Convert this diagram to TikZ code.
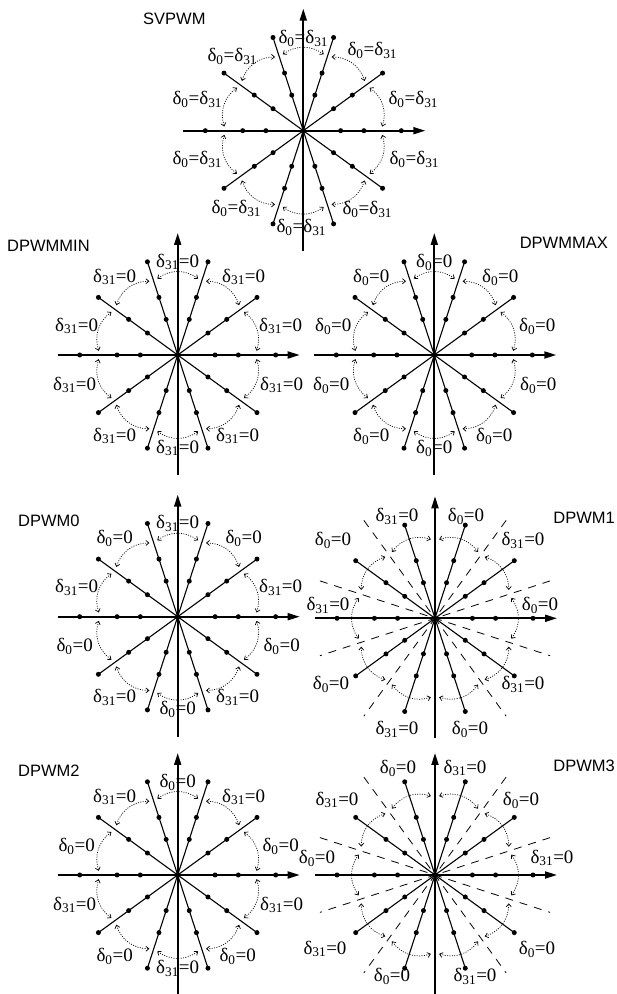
\documentclass[tikz,border=0pt]{standalone}
\usepackage{fontspec}
\setmainfont{Liberation Serif}
\newfontfamily\titlefont{Liberation Sans}
\usetikzlibrary{arrows.meta}

\newcommand{\dsub}[1]{δ\textsubscript{#1}}
\newcommand{\dboth}{\dsub{0}=\dsub{31}}
\newcommand{\dzero}{\dsub{0}=0}
\newcommand{\dfull}{\dsub{31}=0}

% label spots, first one on top, then clockwise
\newcommand{\posSV}{0/92,69/80,110/31,111/-29,64/-79,-2/-97,-67/-78,-106/-29,-106/31,-71/74}
\newcommand{\posA}{0/93,66/78,103/29,104/-30,60/-81,0/-93,-63/-81,-103/-30,-101/29,-63/78}
\newcommand{\posB}{31/102,88/78,105/13,88/-66,35/-111,-38/-111,-104/-66,-107/13,-102/78,-38/102}
\newcommand{\posC}{30/107,86/75,117/17,102/-74,40/-101,-43/-101,-110/-74,-118/17,-98/75,-37/107}

% axes, the five lines and their vectors
\newcommand{\vplane}{%
  \draw[axis] (-120,0) -- (122,0);
  \draw[axis] (0,-120) -- (0,122);
  \foreach \a in {36,72,108,144}
    \draw[ray] (\a:98) -- (\a+180:98);
  \foreach \a in {0,36,...,324}
    \foreach \r in {37.4,60.6,98}
      \fill (\a:\r) circle (2.5);
  \fill (0,0) circle (2.5);
}

% swings round the middle angles #1
\newcommand{\swings}[1]{%
  \foreach \a in {#1}
    \draw[swing] (\a-15:79) to[bend right=36] (\a+15:79);
}

% sector texts, #2 and #3 take turns
\newcommand{\planelabels}[4]{%
  \foreach \x/\y [count=\k] in #1 {
    \ifodd\k\relax \node[lbl] (#4\k) at (\x,\y) {#2};
    \else \node[lbl] (#4\k) at (\x,\y) {#3};\fi
  }
}

\begin{document}
\begin{tikzpicture}[
  x=1pt, y=1pt,
  axis/.style={line width=1.8, -{Triangle[length=12pt,width=7pt]}},
  ray/.style={line width=1.1},
  swing/.style={line width=0.7, dash pattern=on 1pt off 1.4pt,
                {Straight Barb[length=3pt,width=5pt]}-{Straight Barb[length=3pt,width=5pt]}},
  split/.style={line width=0.8, dash pattern=on 8pt off 7pt},
  lbl/.style={inner sep=0pt, font=\fontsize{19}{22}\selectfont},
  title/.style={inner sep=0pt, font=\titlefont\fontsize{16.5}{19}\selectfont},
]
\path[fill=white] (0,0) rectangle (617,994);
\useasboundingbox (0,0) rectangle (617,994);

% SVPWM
\begin{scope}[shift={(303.3,863.3)}]
  \vplane
  \swings{18,54,...,342}
  \planelabels{\posSV}{\dboth}{\dboth}{sv}
\end{scope}
\node[title, anchor=west] (svpwm) at (143,975) {SVPWM};

% DPWMMIN
\begin{scope}[shift={(177.7,639)}]
  \vplane
  \swings{18,54,...,342}
  \planelabels{\posA}{\dfull}{\dfull}{mn}
\end{scope}
\node[title, anchor=west] (dpwmmin) at (7,748.5) {DPWMMIN};

% DPWMMAX
\begin{scope}[shift={(434.3,639)}]
  \vplane
  \swings{18,54,...,342}
  \planelabels{\posA}{\dzero}{\dzero}{mx}
\end{scope}
\node[title, anchor=east] (dpwmmax) at (608,751.5) {DPWMMAX};

% DPWM0
\begin{scope}[shift={(177.7,377.3)}]
  \vplane
  \swings{18,54,...,342}
  \planelabels{\posA}{\dfull}{\dzero}{za}
\end{scope}
\node[title, anchor=west] (dpwm0) at (18,473) {DPWM0};

% DPWM1
\begin{scope}[shift={(435,375.7)}]
  \foreach \a in {18,54,126,162}
    \draw[split] (\a:121) -- (\a+180:121);
  \vplane
  \swings{0,36,...,324}
  \planelabels{\posB}{\dzero}{\dfull}{zb}
\end{scope}
\node[title, anchor=east] (dpwm1) at (615,476.5) {DPWM1};

% DPWM2
\begin{scope}[shift={(177.7,119)}]
  \vplane
  \swings{18,54,...,342}
  \planelabels{\posA}{\dzero}{\dfull}{zc}
\end{scope}
\node[title, anchor=west] (dpwm2) at (18,223) {DPWM2};

% DPWM3
\begin{scope}[shift={(435,119)}]
  \foreach \a in {18,54,126,162}
    \draw[split] (\a:121) -- (\a+180:121);
  \vplane
  \swings{0,36,...,324}
  \planelabels{\posC}{\dfull}{\dzero}{zd}
\end{scope}
\node[title, anchor=east] (dpwm3) at (615,228) {DPWM3};
\end{tikzpicture}
\end{document}
